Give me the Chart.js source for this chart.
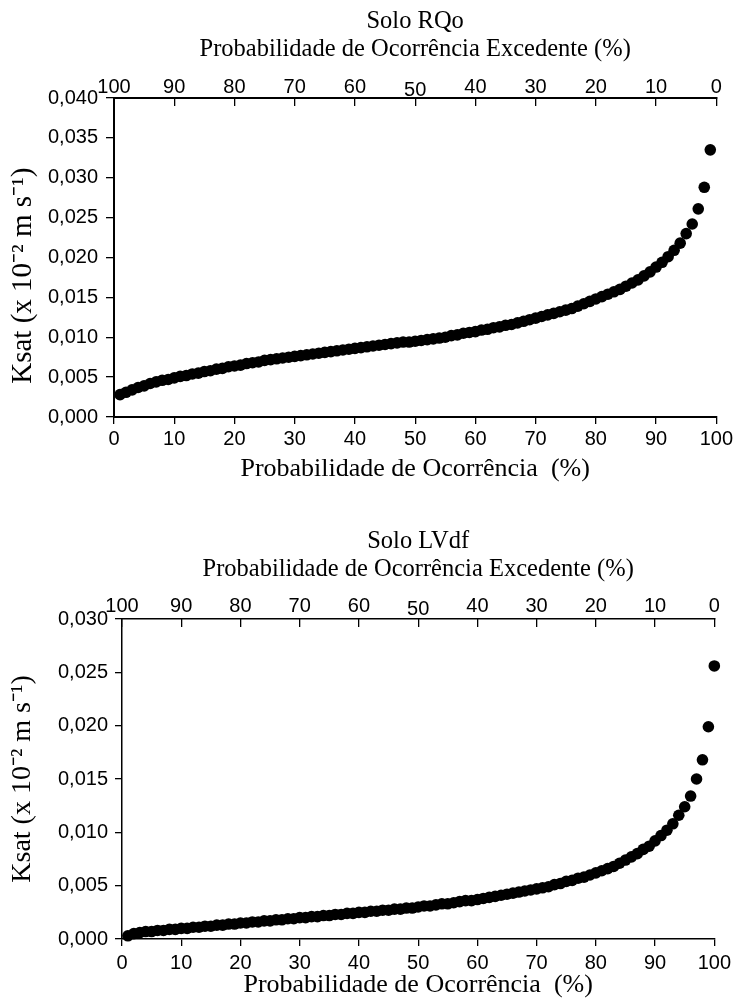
<!DOCTYPE html>
<html>
<head>
<meta charset="utf-8">
<script src="https://cdn.jsdelivr.net/npm/chart.js@4.4.1/dist/chart.umd.min.js"></script>
<style>
  html, body { margin: 0; padding: 0; background: #fff; overflow: hidden; }
  .panel { position: absolute; left: 0; width: 736px; }
  .panel canvas { display: block; }
  #panelRQo { top: 0; height: 500px; }
  #panelLVdf { top: 500px; height: 498px; }
</style>
</head>
<body>
<div class="panel" id="panelRQo"><canvas id="chartRQo" width="736" height="500"></canvas></div>
<div class="panel" id="panelLVdf"><canvas id="chartLVdf" width="736" height="498"></canvas></div>
<script>
// Solo RQo: probability of occurrence (%) and Ksat (x 10^-2 m s^-1)
const probRQo = [
  1, 2, 3, 4, 5, 6, 7, 8, 9, 10, 11, 12, 13, 14, 15, 16, 17, 18, 19, 20,
  21, 22, 23, 24, 25, 26, 27, 28, 29, 30, 31, 32, 33, 34, 35, 36, 37, 38, 39, 40,
  41, 42, 43, 44, 45, 46, 47, 48, 49, 50, 51, 52, 53, 54, 55, 56, 57, 58, 59, 60,
  61, 62, 63, 64, 65, 66, 67, 68, 69, 70, 71, 72, 73, 74, 75, 76, 77, 78, 79, 80,
  81, 82, 83, 84, 85, 86, 87, 88, 89, 90, 91, 92, 93, 94, 95, 96, 97, 98, 99
];
const ksatRQo = [
  0.0028, 0.0031, 0.0034, 0.0037, 0.0039, 0.0042, 0.0044, 0.0046, 0.0047, 0.0049,
  0.0051, 0.0052, 0.0054, 0.0055, 0.0057, 0.0058, 0.0060, 0.0061, 0.0063, 0.0064,
  0.0065, 0.0067, 0.0068, 0.0069, 0.0071, 0.0072, 0.0073, 0.0074, 0.0075, 0.0076,
  0.0077, 0.0078, 0.0079, 0.0080, 0.0081, 0.0082, 0.0083, 0.0084, 0.0085, 0.0086,
  0.0087, 0.0088, 0.0089, 0.0090, 0.0091, 0.0092, 0.0093, 0.0094, 0.0094, 0.0095,
  0.0096, 0.0097, 0.0098, 0.0099, 0.0100, 0.0102, 0.0103, 0.0105, 0.0106, 0.0107,
  0.0109, 0.0110, 0.0112, 0.0113, 0.0115, 0.0116, 0.0118, 0.0120, 0.0122, 0.0124,
  0.0126, 0.0128, 0.0130, 0.0132, 0.0134, 0.0136, 0.0139, 0.0142, 0.0145, 0.0148,
  0.0151, 0.0154, 0.0157, 0.0160, 0.0164, 0.0168, 0.0172, 0.0177, 0.0182, 0.0188,
  0.0194, 0.0201, 0.0209, 0.0218, 0.0230, 0.0242, 0.0261, 0.0288, 0.0335
];

// Solo LVdf
const probLVdf = [
  1, 2, 3, 4, 5, 6, 7, 8, 9, 10, 11, 12, 13, 14, 15, 16, 17, 18, 19, 20,
  21, 22, 23, 24, 25, 26, 27, 28, 29, 30, 31, 32, 33, 34, 35, 36, 37, 38, 39, 40,
  41, 42, 43, 44, 45, 46, 47, 48, 49, 50, 51, 52, 53, 54, 55, 56, 57, 58, 59, 60,
  61, 62, 63, 64, 65, 66, 67, 68, 69, 70, 71, 72, 73, 74, 75, 76, 77, 78, 79, 80,
  81, 82, 83, 84, 85, 86, 87, 88, 89, 90, 91, 92, 93, 94, 95, 96, 97, 98, 99, 100
];
const ksatLVdf = [
  0.0003, 0.0005, 0.0006, 0.0007, 0.0007, 0.0008, 0.0008, 0.0009, 0.0009, 0.0010,
  0.0010, 0.0011, 0.0011, 0.0012, 0.0012, 0.0013, 0.0013, 0.0014, 0.0014, 0.0015,
  0.0015, 0.0016, 0.0016, 0.0017, 0.0017, 0.0018, 0.0018, 0.0019, 0.0019, 0.0020,
  0.0020, 0.0021, 0.0021, 0.0022, 0.0022, 0.0023, 0.0023, 0.0024, 0.0024, 0.0025,
  0.0025, 0.0026, 0.0026, 0.0027, 0.0027, 0.0028, 0.0028, 0.0029, 0.0029, 0.0030,
  0.0031, 0.0031, 0.0032, 0.0033, 0.0033, 0.0034, 0.0035, 0.0036, 0.0036, 0.0037,
  0.0038, 0.0039, 0.0040, 0.0041, 0.0042, 0.0043, 0.0044, 0.0045, 0.0046, 0.0047,
  0.0048, 0.0049, 0.0051, 0.0052, 0.0054, 0.0055, 0.0057, 0.0058, 0.0060, 0.0062,
  0.0064, 0.0066, 0.0068, 0.0071, 0.0074, 0.0077, 0.0080, 0.0084, 0.0087, 0.0092,
  0.0097, 0.0102, 0.0108, 0.0116, 0.0124, 0.0134, 0.0150, 0.0168, 0.0199, 0.0256
];

const serif = '"Liberation Serif", "Times New Roman", serif';
const sans = '"Liberation Sans", Arial, sans-serif';
const ksatLabel = 'Ksat (x 10\u207B\u00B2 m s\u207B\u00B9)';

function toPoints(xs, ys) {
  return xs.map((x, i) => ({ x: x, y: ys[i] }));
}

// force axis box size so the plot area lands where the original has it
function fixSize(size) {
  return function(scale) {
    if (scale.isHorizontal()) scale.height = size;
    else scale.width = size;
  };
}

// the "50" on the top axis sits a little lower in the original
function topTickFont(context) {
  const low = context.tick && context.tick.value === 50;
  return { family: sans, size: 20, lineHeight: low ? '18px' : '24px' };
}

function makeChart(canvasId, o) {
  const ctx = document.getElementById(canvasId).getContext('2d');
  const axisGrid = { display: true, drawOnChartArea: false, drawTicks: true, color: '#000', lineWidth: 1.3 };

  return new Chart(ctx, {
    type: 'scatter',
    data: {
      datasets: [{
        data: toPoints(o.xs, o.ys),
        backgroundColor: '#000',
        borderWidth: 0,
        pointRadius: 5.8,
        pointHoverRadius: 5.8,
        clip: false
      }]
    },
    options: {
      responsive: false,
      animation: false,
      events: [],
      layout: { padding: { left: 0, top: 0, bottom: 0, right: o.padRight } },
      plugins: {
        legend: { display: false },
        tooltip: { enabled: false }
      },
      scales: {
        x: {
          type: 'linear',
          position: 'bottom',
          min: 0,
          max: 100,
          afterFit: fixSize(o.bottomH),
          border: { display: true, color: '#000', width: o.borderW },
          grid: { ...axisGrid, tickLength: 7 },
          ticks: {
            stepSize: 10,
            padding: o.bottomTickPad,
            color: '#000',
            font: { family: sans, size: 20 },
            maxRotation: 0
          },
          title: {
            display: true,
            text: 'Probabilidade de Ocorrência  (%)',
            color: '#000',
            font: { family: serif, size: 26, lineHeight: 1 },
            padding: { top: 0, bottom: o.bottomTitlePad }
          }
        },
        x2: {
          type: 'linear',
          position: 'top',
          reverse: true,
          min: 0,
          max: 100,
          afterFit: fixSize(o.topH),
          border: { display: true, color: '#000', width: o.borderW },
          grid: { ...axisGrid, tickLength: -8 },
          ticks: {
            stepSize: 10,
            padding: o.topTickPad,
            color: '#000',
            font: topTickFont,
            maxRotation: 0
          },
          title: {
            display: true,
            text: [o.soil, 'Probabilidade de Ocorrência Excedente (%)'],
            color: '#000',
            font: { family: serif, size: 24.5, lineHeight: 28 / 24.5 },
            padding: { top: o.topTitlePad, bottom: 0 }
          }
        },
        y: {
          type: 'linear',
          min: 0,
          max: o.yMax,
          afterFit: fixSize(o.yWidth),
          border: { display: true, color: '#000', width: o.borderW },
          grid: { ...axisGrid, tickLength: o.yTickLen },
          ticks: {
            stepSize: 0.005,
            padding: o.yTickPad,
            color: '#000',
            font: { family: sans, size: 20 },
            callback: v => v.toFixed(3).replace('.', ',')
          },
          title: {
            display: true,
            text: o.yTitle,
            color: '#000',
            font: { family: serif, size: o.yTitleSize, lineHeight: 1 },
            padding: { top: 9, bottom: 0 }
          }
        }
      }
    }
  });
}

makeChart('chartRQo', {
  soil: 'Solo RQo',
  xs: probRQo, ys: ksatRQo, yMax: 0.04,
  yWidth: 114, topH: 98, bottomH: 83, padRight: 18, borderW: 2,
  topTitlePad: 8, topTickPad: 7, bottomTickPad: 3, bottomTitlePad: 18,
  yTickLen: 8, yTickPad: 8,
  // the label sits lower than the plot middle in the original
  yTitle: ksatLabel + '     ', yTitleSize: 29
});

makeChart('chartLVdf', {
  soil: 'Solo LVdf',
  xs: probLVdf, ys: ksatLVdf, yMax: 0.03,
  yWidth: 122, topH: 119, bottomH: 59, padRight: 21, borderW: 1.5,
  topTitlePad: 28, topTickPad: 9, bottomTickPad: 5, bottomTitlePad: 0,
  yTickLen: 7, yTickPad: 7,
  yTitle: ksatLabel, yTitleSize: 28
});
</script>
</body>
</html>
